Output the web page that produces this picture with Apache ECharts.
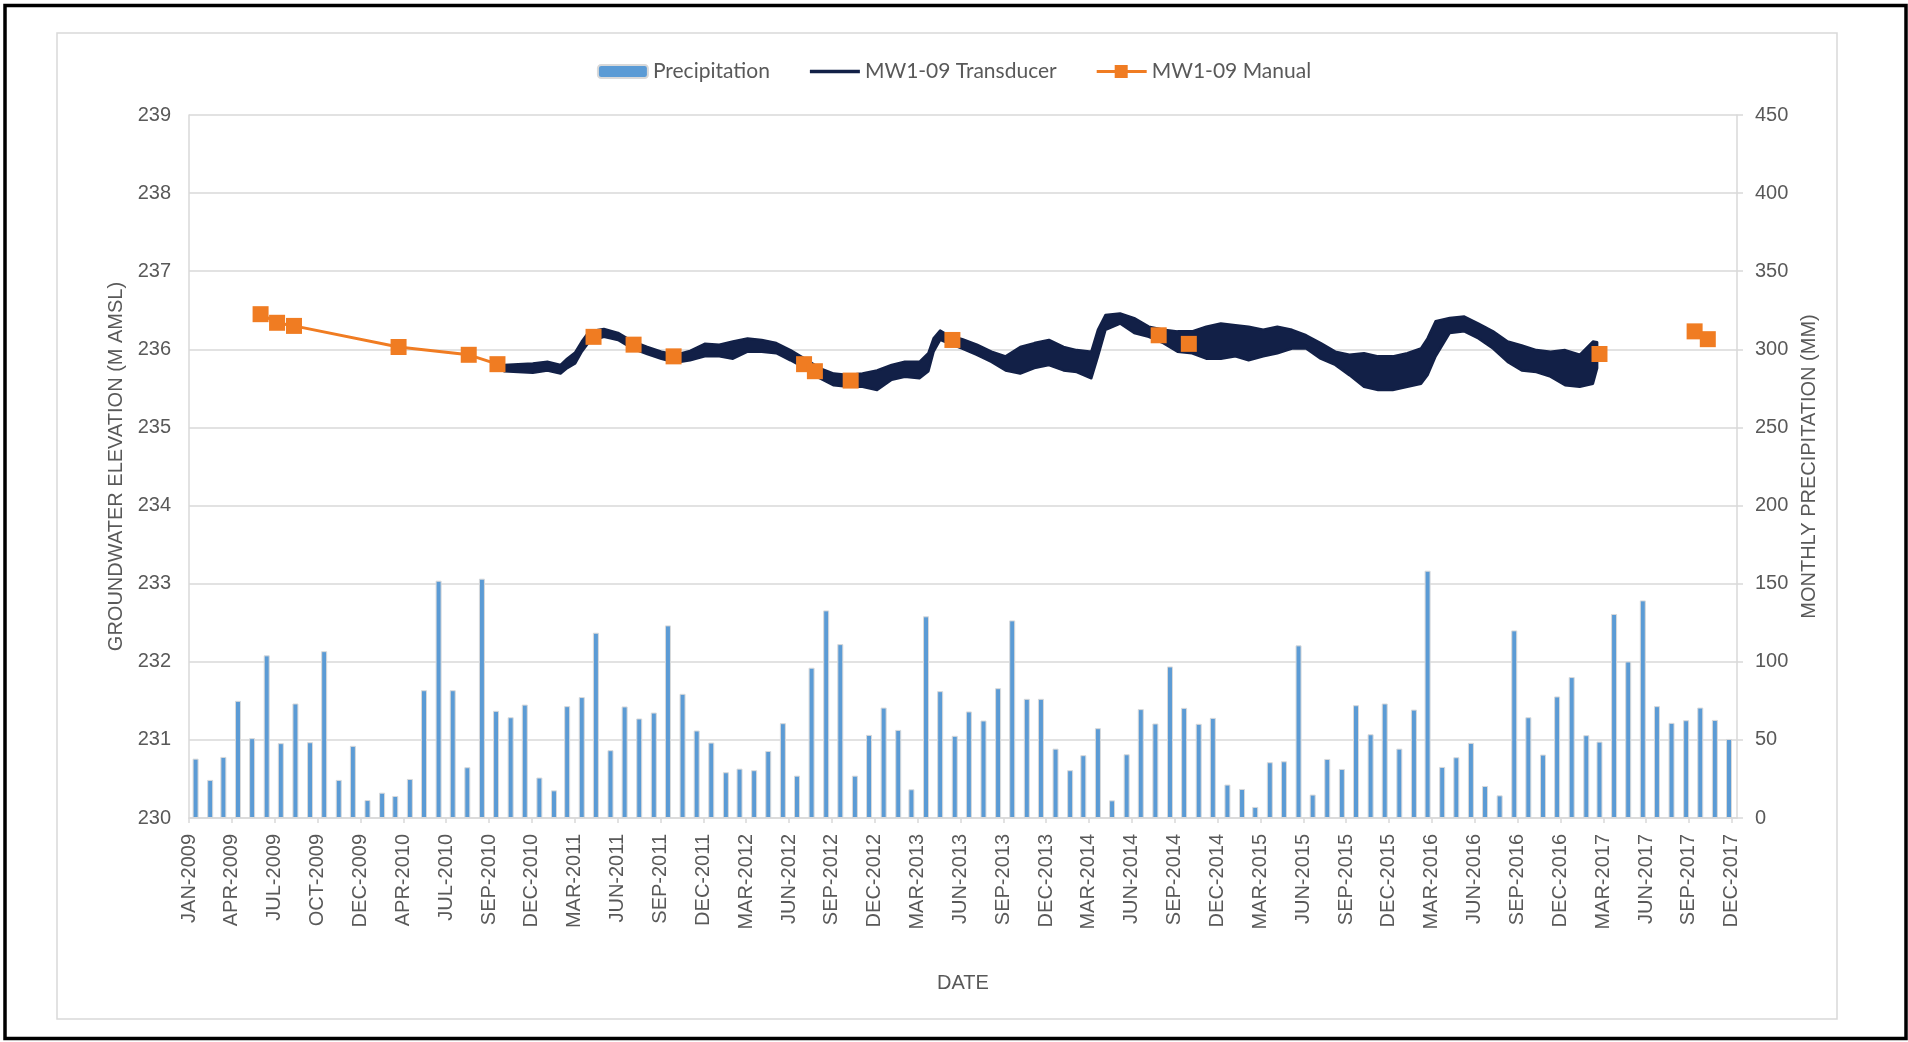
<!DOCTYPE html>
<html>
<head>
<meta charset="utf-8">
<script src="https://cdn.jsdelivr.net/npm/echarts@6/dist/echarts.min.js"></script>
<style>
  html, body { margin: 0; padding: 0; background: #fff; }
  #main { width: 1908px; height: 1042px; }
</style>
</head>
<body>
<div id="main"></div>
<script>
// monthly precipitation (mm), Jan..Dec
var precip2009 = [38.0, 24.4, 39.1, 75.0, 51.1, 104.1, 47.9, 73.3, 48.5, 106.8, 24.4, 46.2];
var precip2010 = [11.5, 16.2, 14.1, 25.0, 81.8, 151.9, 81.8, 32.5, 153.2, 68.6, 64.5, 72.6];
var precip2011 = [25.9, 17.7, 71.6, 77.4, 118.6, 43.4, 71.4, 63.7, 67.5, 123.3, 79.5, 56.0];
var precip2012 = [48.3, 29.3, 31.6, 30.6, 42.9, 60.7, 27.1, 96.2, 132.9, 111.3, 27.1, 53.2];
var precip2013 = [70.7, 56.4, 18.4, 129.1, 81.2, 52.6, 68.2, 62.4, 83.1, 126.5, 76.3, 76.3];
var precip2014 = [44.4, 30.6, 40.2, 57.5, 11.3, 40.8, 69.7, 60.5, 97.0, 70.5, 60.3, 64.1];
var precip2015 = [21.4, 18.6, 7.1, 35.7, 36.3, 110.5, 15.0, 37.8, 31.4, 72.2, 53.6, 73.3];
var precip2016 = [44.4, 69.4, 158.3, 32.7, 38.9, 48.1, 20.5, 14.5, 120.1, 64.5, 40.6, 77.8];
var precip2017 = [90.2, 53.0, 48.9, 130.6, 100.2, 139.3, 71.6, 60.9, 62.6, 70.7, 62.8, 50.6];
var precipYears = [2009, 2010, 2011, 2012, 2013, 2014, 2015, 2016, 2017];
var precipByYear = [precip2009, precip2010, precip2011, precip2012, precip2013,
                    precip2014, precip2015, precip2016, precip2017];

// transducer record: low / high edge of the (noisy) trace, m AMSL
var txDates = ['2010-10-20', '2010-11-01', '2010-12-01', '2011-01-01', '2011-02-01', '2011-03-01',
  '2011-03-15', '2011-04-01', '2011-04-15', '2011-05-01', '2011-06-01', '2011-07-01', '2011-08-01',
  '2011-09-01', '2011-10-01', '2011-11-01', '2011-12-01', '2012-01-01', '2012-02-01', '2012-03-01',
  '2012-04-01', '2012-05-01', '2012-06-01', '2012-07-01', '2012-08-01', '2012-09-01', '2012-10-01',
  '2012-11-01', '2012-12-01', '2013-01-01', '2013-02-01', '2013-03-01', '2013-04-01', '2013-04-20',
  '2013-05-01', '2013-05-15', '2013-06-01', '2013-07-01', '2013-08-01', '2013-09-01', '2013-10-01',
  '2013-11-01', '2013-12-01', '2014-01-01', '2014-02-01', '2014-03-01', '2014-04-01', '2014-04-15',
  '2014-05-01', '2014-06-01', '2014-07-01', '2014-08-01', '2014-09-01', '2014-10-01', '2014-11-01',
  '2014-12-01', '2015-01-01', '2015-02-01', '2015-03-01', '2015-04-01', '2015-05-01', '2015-06-01',
  '2015-07-01', '2015-08-01', '2015-09-01', '2015-10-01', '2015-11-01', '2015-12-01', '2016-01-01',
  '2016-02-01', '2016-03-01', '2016-03-15', '2016-04-01', '2016-05-01', '2016-06-01', '2016-07-01',
  '2016-08-01', '2016-09-01', '2016-10-01', '2016-11-01', '2016-12-01', '2017-01-01', '2017-02-01',
  '2017-03-01', '2017-03-10'];
var txLow = [235.76, 235.72, 235.71, 235.70, 235.73, 235.69,
  235.76, 235.82, 235.97, 236.10, 236.16, 236.12, 236.01,
  235.94, 235.88, 235.83, 235.86, 235.91, 235.91, 235.88,
  235.97, 235.97, 235.95, 235.86, 235.76, 235.63, 235.54,
  235.52, 235.52, 235.48, 235.61, 235.65, 235.63, 235.72,
  235.97, 236.12, 236.08, 236.01, 235.93, 235.84, 235.73,
  235.69, 235.76, 235.80, 235.73, 235.71, 235.63, 235.91,
  236.25, 236.33, 236.21, 236.16, 236.08, 235.97, 235.95,
  235.88, 235.88, 235.91, 235.86, 235.91, 235.95, 236.01,
  236.01, 235.88, 235.80, 235.67, 235.52, 235.48, 235.48,
  235.52, 235.56, 235.67, 235.91, 236.21, 236.23, 236.14,
  236.01, 235.84, 235.73, 235.71, 235.65, 235.54, 235.52,
  235.56, 235.76];
var txHigh = [235.83, 235.80, 235.81, 235.82, 235.84, 235.80,
  235.88, 235.96, 236.10, 236.23, 236.26, 236.21, 236.10,
  236.03, 235.97, 235.93, 235.98, 236.07, 236.06, 236.10,
  236.14, 236.12, 236.08, 235.99, 235.88, 235.76, 235.69,
  235.67, 235.69, 235.73, 235.80, 235.84, 235.84, 235.95,
  236.14, 236.24, 236.18, 236.13, 236.06, 235.97, 235.91,
  236.03, 236.08, 236.12, 236.03, 235.99, 235.97, 236.25,
  236.44, 236.46, 236.40, 236.29, 236.25, 236.23, 236.23,
  236.29, 236.33, 236.31, 236.29, 236.25, 236.29, 236.25,
  236.18, 236.08, 235.97, 235.93, 235.95, 235.91, 235.91,
  235.95, 236.01, 236.14, 236.36, 236.40, 236.42, 236.33,
  236.23, 236.10, 236.05, 235.99, 235.97, 235.99, 235.93,
  236.10, 236.09];

// manual water level measurements, m AMSL
var manualDates = ['2009-06-02', '2009-07-07', '2009-08-12', '2010-03-22', '2010-08-18', '2010-10-18',
  '2011-05-10', '2011-08-03', '2011-10-27', '2012-07-30', '2012-08-22', '2012-11-06', '2013-06-10',
  '2014-08-22', '2014-10-25', '2017-03-15', '2017-10-03', '2017-10-31'];
var manualLevels = [236.45, 236.34, 236.30, 236.03, 235.93, 235.81,
  236.16, 236.06, 235.91, 235.81, 235.72, 235.60, 236.12,
  236.18, 236.07, 235.94, 236.23, 236.13];
var manualJoined = 6; // readings before the logger went in are joined by a line

var MONTHS = ['JAN', 'FEB', 'MAR', 'APR', 'MAY', 'JUN', 'JUL', 'AUG', 'SEP', 'OCT', 'NOV', 'DEC'];
var T0 = Date.UTC(2009, 0, 1);
var DAY = 86400000;
function dayOf(s) {
  var p = s.split('-');
  return Math.round((Date.UTC(+p[0], +p[1] - 1, +p[2]) - T0) / DAY);
}

var precipData = [];
precipYears.forEach(function (y, i) {
  precipByYear[i].forEach(function (v, m) {
    precipData.push([Math.round((Date.UTC(y, m, 15) - T0) / DAY), v]);
  });
});

var txData = txDates.map(function (d, i) { return [dayOf(d), txLow[i], txHigh[i]]; });

var manualData = [];
manualDates.forEach(function (d, i) {
  if (i >= manualJoined) manualData.push([dayOf(d) - 1, '-']);
  manualData.push([dayOf(d), manualLevels[i]]);
});

var FONT = 'Liberation Sans, Arial, sans-serif';
var GREY = '#595959';
var LINE = '#d9d9d9';
var NAVY = '#122047';
var ORANGE = '#F07C22';

var chartDom = document.getElementById('main');
var myChart = echarts.init(chartDom);
var option;

option = {
  animation: false,
  backgroundColor: '#fff',
  graphic: [
    {
      type: 'rect', silent: true, z: -1,
      shape: { x: 57, y: 33, width: 1780, height: 986 },
      style: { fill: 'none', stroke: LINE, lineWidth: 1.5 }
    },
    {
      type: 'rect', silent: true,
      shape: { x: 5, y: 5.5, width: 1901, height: 1033 },
      style: { fill: 'none', stroke: '#000', lineWidth: 3.5 }
    }
  ],
  legend: {
    top: 56,
    left: 'center',
    itemWidth: 50,
    itemHeight: 13,
    itemGap: 40,
    symbolKeepAspect: true,
    data: [
      'Precipitation',
      { name: 'MW1-09 Transducer', icon: 'path://M0,0h50v3.5h-50z' },
      { name: 'MW1-09 Manual', icon: 'path://M0,5h18v3h-18z M18,0h13v13h-13z M31,5h19v3h-19z' }
    ],
    textStyle: { fontFamily: 'Lato', fontSize: 21, color: GREY }
  },
  grid: {
    left: 189,
    right: 171,
    top: 115,
    bottom: 224
  },
  xAxis: {
    type: 'value',
    min: 0,
    max: 3287,
    interval: 91,
    name: 'DATE',
    nameLocation: 'middle',
    nameGap: 155,
    nameTextStyle: { fontFamily: FONT, fontSize: 20, color: GREY },
    axisLine: { lineStyle: { color: LINE, width: 1.5 } },
    axisTick: { length: 5, lineStyle: { color: LINE, width: 1.5 } },
    axisLabel: {
      rotate: 90,
      margin: 16,
      showMaxLabel: false,
      fontFamily: FONT,
      fontSize: 20,
      color: GREY,
      formatter: function (v) {
        if (v % 91 !== 0) return '';
        var d = new Date(T0 + v * DAY);
        return MONTHS[d.getUTCMonth()] + '-' + d.getUTCFullYear();
      }
    },
    splitLine: { show: false }
  },
  yAxis: [
    {
      type: 'value',
      min: 230,
      max: 239,
      interval: 1,
      position: 'left',
      name: 'GROUNDWATER ELEVATION (M AMSL)',
      nameLocation: 'middle',
      nameRotate: 90,
      nameGap: 62,
      nameTextStyle: { fontFamily: FONT, fontSize: 20, color: GREY },
      axisLine: { show: true, lineStyle: { color: LINE, width: 1.5 } },
      axisTick: { show: false },
      axisLabel: { margin: 18, fontFamily: FONT, fontSize: 20, color: GREY },
      splitLine: { lineStyle: { color: LINE, width: 1.5 } }
    },
    {
      type: 'value',
      min: 0,
      max: 450,
      interval: 50,
      position: 'right',
      name: 'MONTHLY PRECIPITATION (MM)',
      nameLocation: 'middle',
      nameRotate: 90,
      nameGap: 62,
      nameTextStyle: { fontFamily: FONT, fontSize: 20, color: GREY },
      axisLine: { show: true, lineStyle: { color: LINE, width: 1.5 } },
      axisTick: { show: true, length: 6, lineStyle: { color: LINE, width: 1.5 } },
      axisLabel: { margin: 18, fontFamily: FONT, fontSize: 20, color: GREY },
      splitLine: { show: false }
    }
  ],
  series: [
    {
      name: 'Precipitation',
      type: 'bar',
      yAxisIndex: 1,
      barWidth: 6,
      itemStyle: { color: '#5B9BD5', borderColor: LINE, borderWidth: 1 },
      data: precipData
    },
    {
      // the logger trace is drawn as the band between its low and high edges
      name: 'MW1-09 Transducer',
      type: 'custom',
      silent: true,
      itemStyle: { color: NAVY },
      encode: { x: 0, y: [1, 2] },
      data: txData,
      renderItem: function (params, api) {
        if (params.dataIndex !== 0) return null;
        var upper = [], lower = [];
        for (var i = 0; i < txData.length; i++) {
          upper.push(api.coord([txData[i][0], txData[i][2]]));
          lower.unshift(api.coord([txData[i][0], txData[i][1]]));
        }
        return {
          type: 'polygon',
          shape: { points: upper.concat(lower) },
          style: { fill: NAVY, stroke: NAVY, lineWidth: 2.5, lineJoin: 'round' }
        };
      }
    },
    {
      name: 'MW1-09 Manual',
      type: 'line',
      symbol: 'rect',
      symbolSize: 16,
      connectNulls: false,
      lineStyle: { color: ORANGE, width: 3 },
      itemStyle: { color: ORANGE },
      data: manualData,
      z: 5
    }
  ]
};

option && myChart.setOption(option);
</script>
</body>
</html>
